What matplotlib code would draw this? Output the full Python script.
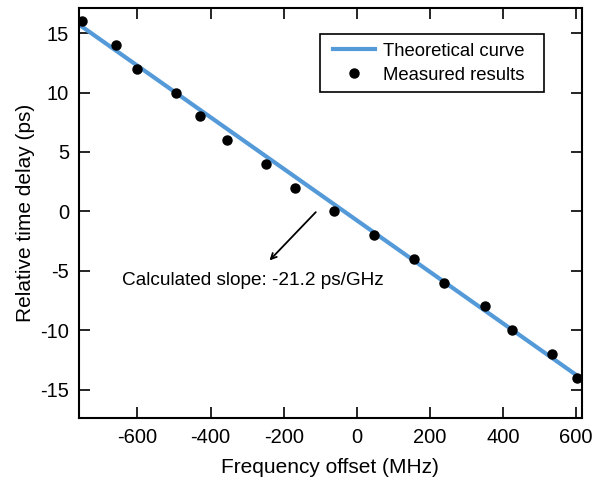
import numpy as np
import matplotlib
matplotlib.use("Agg")
import matplotlib.pyplot as plt
from matplotlib.patches import Rectangle

plt.rcParams["font.family"] = ["Liberation Sans", "DejaVu Sans"]
plt.rcParams["axes.unicode_minus"] = False

# measured points (MHz, ps)
freq_mhz = [-752, -658, -601, -495, -430, -356, -248, -168, -62,
            48, 157, 238, 350, 424, 535, 602]
delay_ps = [16, 14, 12, 10, 8, 6, 4, 2, 0,
            -2, -4, -6, -8, -10, -12, -14]

# theoretical line end points
theory_x = [-760, 615]
theory_y = [15.73, -14.1]

xticks = [-600, -400, -200, 0, 200, 400, 600]
yticks = [-15, -10, -5, 0, 5, 10, 15]

fig = plt.figure(figsize=(5.93, 4.8), dpi=100)
ax = fig.add_axes([0.133, 0.129, 0.848, 0.854])

ax.plot(theory_x, theory_y, color="#559ad8", lw=3, label="Theoretical curve", zorder=2)
ax.plot(freq_mhz, delay_ps, "o", color="black", ms=6.5, ls="none",
        label="Measured results", zorder=3)

ax.set_xlim(-760, 615)
ax.set_ylim(-17.4, 17.1)
ax.set_xticks(xticks)
ax.set_yticks(yticks)
ax.tick_params(direction="in", length=8, width=1.2, top=True, right=True,
               labelsize=14.5, pad=7)
for s in ax.spines.values():
    s.set_linewidth(1.5)

ax.set_xlabel("Frequency offset (MHz)", fontsize=15, labelpad=8)
ax.set_ylabel("Relative time delay (ps)", fontsize=15, labelpad=4)

ax.annotate("", xy=(-244, -4.3), xytext=(-107, 0.1),
            arrowprops=dict(arrowstyle="->", color="black", lw=1.3))
ax.text(-643, -5.8, "Calculated slope: -21.2 ps/GHz", fontsize=13.7, va="center")

# legend entries without frame, box drawn separately so padding can differ
ax.legend(loc="upper left", bbox_to_anchor=(0.505, 0.916), fontsize=13.3,
          frameon=False, handlelength=2.3, handletextpad=0.4, borderpad=0,
          labelspacing=0.38, borderaxespad=0)
ax.add_patch(Rectangle((0.479, 0.795), 0.445, 0.142, transform=ax.transAxes,
                       fill=False, edgecolor="black", lw=1.2, zorder=5))

fig.savefig("out.png", dpi=100)
